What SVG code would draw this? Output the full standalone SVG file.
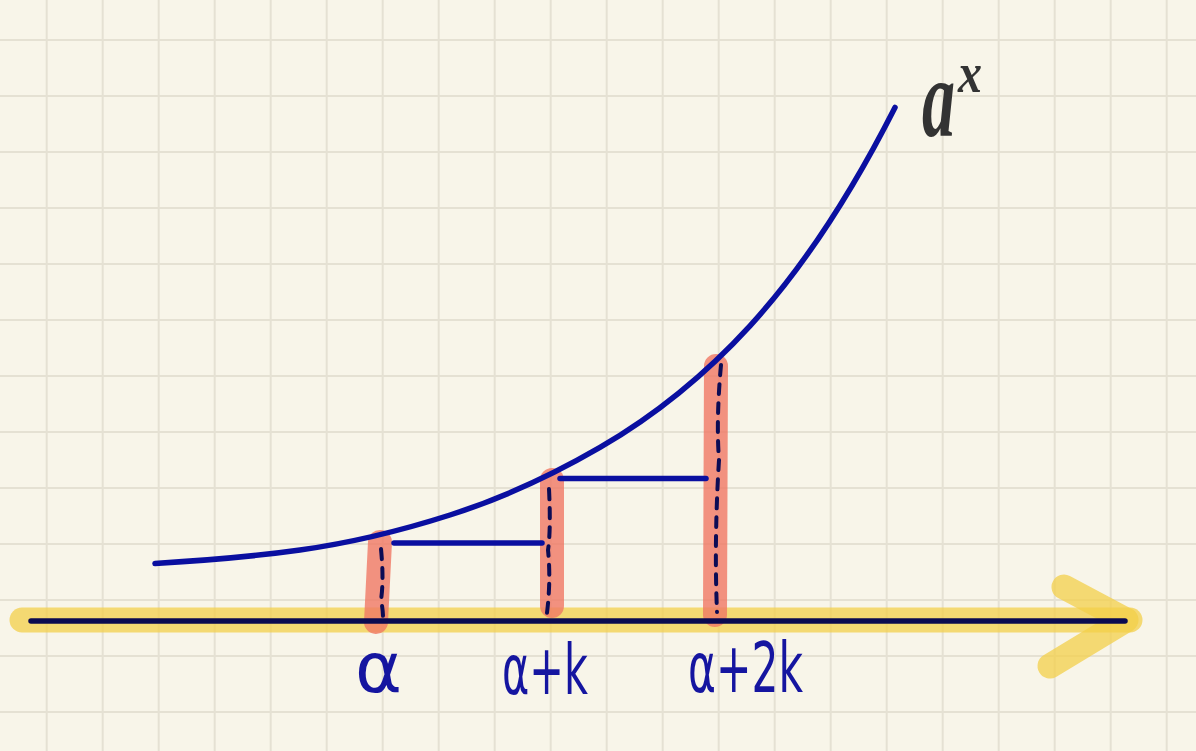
<svg xmlns="http://www.w3.org/2000/svg" width="1196" height="751" viewBox="0 0 1196 751">
<defs>
<style>
.grid{stroke:#e5e1d3;stroke-width:2;fill:none}
.hl{stroke:#f3cf4a;stroke-opacity:0.75;stroke-width:25;stroke-linecap:round;stroke-linejoin:round;fill:none}
.bar{stroke:#f07864;stroke-opacity:0.8;stroke-width:24;stroke-linecap:round;fill:none}
.dash{stroke:#0c0c55;stroke-width:4;stroke-dasharray:10 9;stroke-linecap:round;fill:none}
.blue{stroke:#0a0fa0;stroke-width:5.5;stroke-linecap:round;fill:none}
.axis{stroke:#0a0a50;stroke-width:5.5;stroke-linecap:round;fill:none}
.lbl{font-family:"DejaVu Sans","Noto Sans",sans-serif;fill:#1515a0;font-size:58px}
.fn{font-family:"Liberation Serif","DejaVu Serif",serif;fill:#333333;font-style:italic;font-weight:bold}
</style>
</defs>
<rect width="1196" height="751" fill="#f8f5e9"/>
<g id="grid">
<path class="grid" d="M46.7,0V751M102.7,0V751M158.7,0V751M214.7,0V751M270.7,0V751M326.7,0V751M382.7,0V751M438.7,0V751M494.7,0V751M550.7,0V751M606.7,0V751M662.7,0V751M718.7,0V751M774.7,0V751M830.7,0V751M886.7,0V751M942.7,0V751M998.7,0V751M1054.7,0V751M1110.7,0V751M1166.7,0V751"/>
<path class="grid" d="M0,40H1196M0,96H1196M0,152H1196M0,208H1196M0,264H1196M0,320H1196M0,376H1196M0,432H1196M0,488H1196M0,544H1196M0,600H1196M0,656H1196M0,712H1196"/>
</g>
<g id="axis">
<path class="hl" d="M22,620H1130"/>
<path class="hl" d="M1064,587L1126,620L1050,666"/>
</g>
<g id="bars">
<path class="bar" d="M380,542L376,622"/>
<path class="bar" d="M552,480L552,606"/>
<path class="bar" d="M716,366L715,615"/>
</g>
<g id="axis-line">
<path class="axis" d="M31,621H1125"/>
</g>
<g id="connectors">
<path class="dash" d="M381,549Q384,580 381,600Q383,610 383,617"/>
<path class="dash" d="M549,489Q551,530 548,550Q551,580 547,613"/>
<path class="dash" d="M721,365Q716,420 719,460Q714,540 717,612"/>
<path class="blue" d="M394,543H542"/>
<path class="blue" d="M560,478.5H706"/>
</g>
<g id="curve">
<path class="blue" d="M155,563.5C203.3,560.6 251.7,556.8 300,550C350,543 400,531 450,515C500,499 550,476.4 600,447.4C650,418.3 700,380.5 750,325.8C798.3,273 848,200 895,107.4"/>
</g>
<g id="labels">
<text class="lbl" transform="translate(355,692) scale(1,1.2)" textLength="47" lengthAdjust="spacingAndGlyphs">α</text>
<text class="lbl" transform="translate(502,694) scale(1,1.2)" textLength="86" lengthAdjust="spacingAndGlyphs">α+k</text>
<text class="lbl" transform="translate(688,692) scale(1,1.2)" textLength="115" lengthAdjust="spacingAndGlyphs">α+2k</text>
</g>
<g id="func-label">
<text class="fn" font-size="66" transform="translate(922,136) scale(1,1.7)">a</text>
<text class="fn" font-size="48" transform="translate(958,92) scale(1,1.2)">x</text>
</g>
</svg>
